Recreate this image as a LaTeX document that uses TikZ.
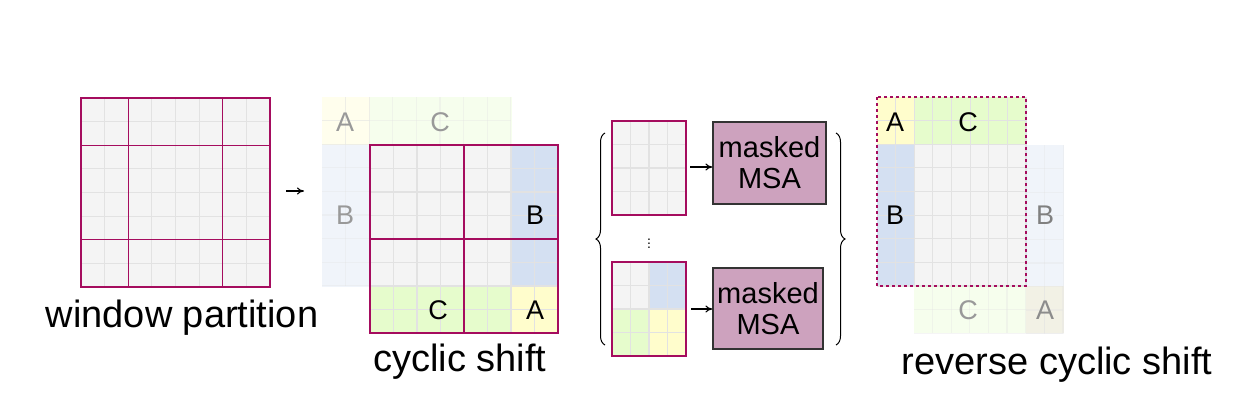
\documentclass[tikz,border=0pt]{standalone}
\usepackage{fontspec}
\setmainfont{Liberation Sans}
\usetikzlibrary{decorations.pathreplacing,arrows.meta}
\definecolor{gbg}{HTML}{F4F4F4}
\definecolor{gln}{HTML}{E2E2E2}
\definecolor{win}{HTML}{A50C5E}
\definecolor{cb}{HTML}{D4E0F2}
\definecolor{cg}{HTML}{E6FCCC}
\definecolor{cy}{HTML}{FFFDCC}
\definecolor{msa}{HTML}{CDA2BE}
\newcommand{\cgrid}[6]{% x0 y0 dx dy nx ny
  \foreach \i in {1,...,#5}{\draw[gln,line width=1.2] ({#1+\i*#3},#2) -- ++(0,{#4*#6});}
  \foreach \j in {1,...,#6}{\draw[gln,line width=1.2] (#1,{#2+\j*#4}) -- ++({#3*#5},0);}}
\tikzset{
  winl/.style={draw=win,line width=1.2},
  lbl/.style={font=\fontsize{27}{27}\selectfont},
  ghost/.style={lbl,text=black!40},
  captxt/.style={font=\fontsize{38}{38}\selectfont},
  msabox/.style={draw=black!80,fill=msa,line width=1.2,font=\fontsize{29}{31}\selectfont,align=center,inner sep=0},
  arr/.style={-{To[length=7,width=7]},line width=1.1},
  brace/.style={decorate,decoration={brace,amplitude=9},line width=1}
}
\begin{document}
\begin{tikzpicture}[x=1pt,y=-1pt]
\useasboundingbox (0,0) rectangle (1247,410);
% ---- window partition
\fill[gbg] (81,98) rectangle (270,287);
\cgrid{81}{98}{23.625}{23.625}{8}{8}
\draw[winl] (81,98) rectangle (270,287);
\draw[winl] (128.25,98) -- (128.25,287) (222.75,98) -- (222.75,287) (81,145.25) -- (270,145.25) (81,239.75) -- (270,239.75);
\node[captxt] (wp) at (182,318) {window partition};
\coordinate (a1s) at (286,191);
\coordinate (a1e) at (304,191);
\draw[arr] (a1s) -- (a1e);
% ---- cyclic shift
\begin{scope}[opacity=0.35]
\fill[cy] (322,97) rectangle (370,145);
\fill[cg] (370,97) rectangle (512,145);
\fill[cb] (322,145) rectangle (370,287);
\cgrid{322}{97}{23.6}{23.6}{8}{2}
\cgrid{322}{97}{23.6}{23.6}{2}{8}
\end{scope}
\node[ghost] at (345,122) {A};
\node[ghost] at (440,122) {C};
\node[ghost] at (345,215) {B};
\fill[gbg] (370,145) rectangle (558,333);
\fill[cb] (511,145) rectangle (558,286);
\fill[cg] (370,286) rectangle (511,333);
\fill[cy] (511,286) rectangle (558,333);
\cgrid{370}{145}{23.5}{23.5}{8}{8}
\draw[winl] (370,145) rectangle (558,333);
\draw[winl] (464,145) -- (464,333) (370,239) -- (558,239);
\node[lbl] at (535,215) {B};
\node[lbl] at (438,310) {C};
\node[lbl] at (535,310) {A};
\node[captxt] (cs) at (460,362) {cyclic shift};
% ---- masked MSA
\draw[brace] (605,345) -- (605,133);
\fill[gbg] (612,121) rectangle (686,215);
\cgrid{612}{121}{18.5}{23.5}{4}{4}
\draw[winl] (612,121) rectangle (686,215);
\node[msabox,minimum width=113,minimum height=82] (m1) at (769.5,163) {masked\\MSA};
\coordinate (g1) at (690,167);
\draw[arr] (g1) -- (m1.west |- g1);
\node at (649,241) {\fontsize{14}{14}\selectfont$\vdots$};
\fill[gbg] (612,262) rectangle (649,309);
\fill[cb] (649,262) rectangle (686,309);
\fill[cg] (612,309) rectangle (649,356);
\fill[cy] (649,309) rectangle (686,356);
\cgrid{612}{262}{18.5}{23.5}{4}{4}
\draw[winl] (612,262) rectangle (686,356);
\node[msabox,minimum width=110,minimum height=81] (m2) at (768,308.5) {masked\\MSA};
\coordinate (g2) at (691,309);
\draw[arr] (g2) -- (m2.west |- g2);
\draw[brace] (836,133) -- (836,345);
% ---- reverse cyclic shift
\fill[gbg] (877,97) rectangle (1026,286);
\fill[cy] (877,97) rectangle (914,145);
\fill[cg] (914,97) rectangle (1026,145);
\fill[cb] (877,145) rectangle (914,286);
\cgrid{877}{97}{18.625}{23.625}{8}{8}
\begin{scope}[opacity=0.35]
\fill[cb] (1026,145) rectangle (1064,286);
\fill[cg] (914,286) rectangle (1026,333);
\fill[cy!70!gray] (1026,286) rectangle (1064,333);
\cgrid{1026}{145}{18.6}{23.6}{2}{8}
\cgrid{914}{286}{18.6}{23.6}{8}{2}
\end{scope}
\draw[win,dashed,line width=1.2] (877,97) rectangle (1026,286);
\node[lbl] at (895,122) {A};
\node[lbl] at (968,122) {C};
\node[lbl] at (895,215) {B};
\node[ghost,text=black!50] at (1045,215) {B};
\node[ghost] at (968,310) {C};
\node[ghost,text=black!45] at (1045,310) {A};
\node[captxt] (rcs) at (1057,365) {reverse cyclic shift};
\end{tikzpicture}
\end{document}
